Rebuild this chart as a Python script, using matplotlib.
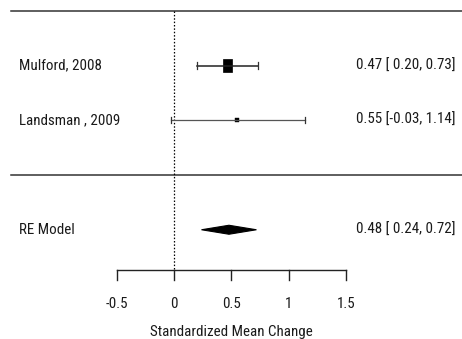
import numpy as np
import matplotlib.pyplot as plt
from matplotlib.patches import Rectangle, Polygon

plt.rcParams['font.family'] = ['Roboto Condensed', 'Liberation Sans', 'DejaVu Sans']

studies = ['Mulford, 2008', 'Landsman , 2009']
est = [0.47, 0.55]
lo = [0.20, -0.03]
hi = [0.73, 1.14]
rows = [2, 1]
re_est, re_lo, re_hi = 0.48, 0.24, 0.72
ticks = [-0.5, 0, 0.5, 1, 1.5]
ticklabels = ['-0.5', '0', '0.5', '1', '1.5']

W, H = 462, 339
fig = plt.figure(figsize=(W / 100, H / 100), dpi=100)
ax = fig.add_axes([0, 0, 1, 1])
ax.axis('off')

# pixel mapping: x=0 at 174px, 114.5 px per unit; row 0 at 175px, 54.75 px per row
xs, x0 = 114.5, 174.0
ys, y0 = 54.75, 175.0
ax.set_xlim(-x0 / xs, (W - x0) / xs)
ax.set_ylim(-(H - y0) / ys, y0 / ys)

fs = 10.8
tc = '#1a1a1a'
xl = (19 - x0) / xs
xr = (456 - x0) / xs

# horizontal lines
ax.plot([(11 - x0) / xs, (W - x0) / xs], [3.0, 3.0], color='#333333', lw=1.1)
ax.plot([(11 - x0) / xs, (W - x0) / xs], [0.0, 0.0], color='#333333', lw=1.1)
# reference line
ax.plot([0, 0], [3.0, -1.735], color='black', lw=0.9, ls=(0, (1.2, 1.5)))

cap = 3.0 / ys
for r, e, l, h, name in zip(rows, est, lo, hi, studies):
    ax.plot([l, h], [r, r], color='#222222' if r == 2 else '#555555', lw=1.1 if r == 2 else 0.9)
    ax.plot([l, l], [r - cap, r + cap], color='#333333', lw=0.9)
    ax.plot([h, h], [r - cap, r + cap], color='#333333', lw=0.9)
    ax.text(xl, r, name, ha='left', va='center', fontsize=fs, color=tc)
    ax.text(xr, r, f'{e:.2f} [{l:5.2f}, {h:.2f}]', ha='right', va='center', fontsize=fs, color=tc)

# study 1 square, study 2 small point
ax.add_patch(Rectangle((est[0] - 4.5 / xs, rows[0] - 6.5 / ys), 9 / xs, 13 / ys,
                       facecolor='black', edgecolor='black', lw=0.5))
ax.add_patch(Rectangle((est[1] - 2 / xs, rows[1] - 2 / ys), 4 / xs, 4 / ys,
                       facecolor='black', edgecolor='black', lw=0.3))

# RE diamond
dh = 4.5 / ys
ax.add_patch(Polygon([[re_lo, -1], [re_est, -1 + dh], [re_hi, -1], [re_est, -1 - dh]],
                     closed=True, facecolor='black', edgecolor='black', lw=0.8))
ax.text(xl, -1, 'RE Model', ha='left', va='center', fontsize=fs, color=tc)
ax.text(xr, -1, f'{re_est:.2f} [ {re_lo:.2f}, {re_hi:.2f}]', ha='right', va='center',
        fontsize=fs, color=tc)

# x axis
ya = -1.735
tl = 10 / ys
ax.plot([ticks[0], ticks[-1]], [ya, ya], color='#222222', lw=1.0)
for t, lab in zip(ticks, ticklabels):
    ax.plot([t, t], [ya, ya - tl], color='#222222', lw=1.0)
    ax.text(t, -2.35, lab, ha='center', va='center', fontsize=fs, color=tc)
ax.text(0.5, -2.86, 'Standardized Mean Change', ha='center', va='center', fontsize=fs, color=tc)

fig.savefig('out.png', dpi=100)
